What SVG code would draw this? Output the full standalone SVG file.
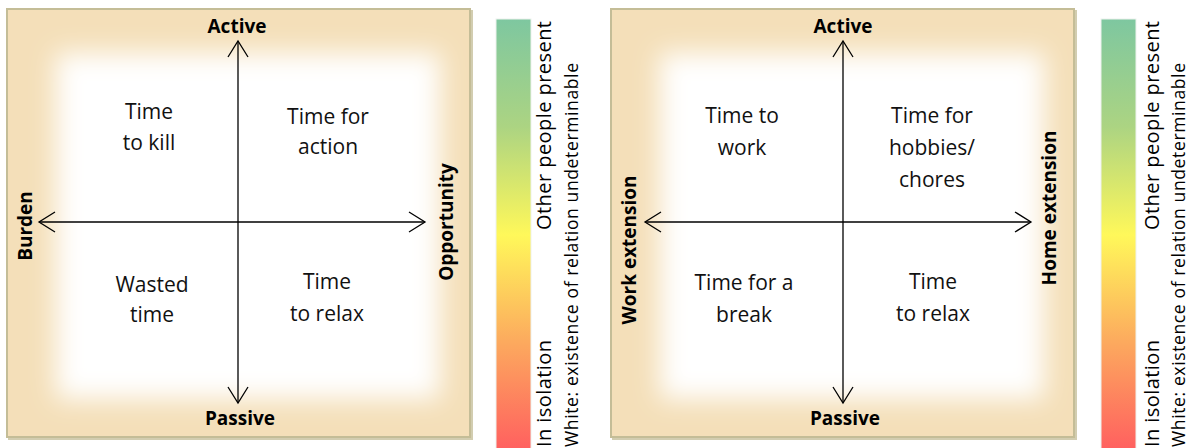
<svg xmlns="http://www.w3.org/2000/svg" width="1192" height="448" viewBox="0 0 1192 448">
<style>
.panel{fill:#f4dfb9;stroke:#c4bd97;stroke-width:2}
.shadow{fill:none;stroke:#d2cdb0;stroke-width:2}
.glow{fill:#ffffff;filter:url(#soft)}
.q{font-family:"Open Sans","Noto Sans",sans-serif;font-size:21px;fill:#111;text-anchor:middle}
.b{font-family:"Open Sans","Noto Sans",sans-serif;font-size:19px;font-weight:bold;fill:#000;text-anchor:middle}
.leg{font-family:"Open Sans","Noto Sans",sans-serif;font-size:20px;fill:#000}
.leg2{font-family:"Open Sans","Noto Sans",sans-serif;font-size:17.5px;fill:#000}
.ax{stroke:#000;stroke-width:1.3;fill:none;marker-start:url(#arr);marker-end:url(#arr)}
.bar{fill:url(#grad);stroke:#eef2ee;stroke-width:1}
</style>
<defs>
<filter id="soft" x="-25%" y="-25%" width="150%" height="150%"><feGaussianBlur stdDeviation="13"/></filter>
<linearGradient id="grad" x1="0" y1="0" x2="0" y2="1">
<stop offset="0" stop-color="#7ec7a0"/>
<stop offset="0.25" stop-color="#acd482"/>
<stop offset="0.5" stop-color="#fff85a"/>
<stop offset="0.75" stop-color="#fca95e"/>
<stop offset="1" stop-color="#ff5f5f"/>
</linearGradient>
<marker id="arr" viewBox="-18 -12 20 24" markerWidth="20" markerHeight="24" refX="0" refY="0" orient="auto-start-reverse" markerUnits="userSpaceOnUse">
<path d="M-16,-10 L0,0 L-16,10" fill="none" stroke="#000" stroke-width="1.3"/>
</marker>
</defs>

<g id="panel-left">
<rect class="shadow" x="9" y="11" width="463" height="428"/>
<rect class="panel" x="7" y="9" width="463" height="428"/>
<rect class="glow" x="56" y="53" width="384" height="346"/>
</g>
<g id="panel-right">
<rect class="shadow" x="613" y="11" width="463" height="428"/>
<rect class="panel" x="611" y="9" width="463" height="428"/>
<rect class="glow" x="660" y="53" width="384" height="346"/>
</g>

<g id="connectors">
<line class="ax" x1="39" y1="222" x2="425" y2="222"/>
<line class="ax" x1="238" y1="403" x2="238" y2="41"/>
<line class="ax" x1="645" y1="222" x2="1031" y2="222"/>
<line class="ax" x1="843" y1="403" x2="843" y2="41"/>
</g>

<g id="left-labels">
<text class="b" x="237" y="33">Active</text>
<text class="b" x="240" y="425">Passive</text>
<text class="b" transform="translate(32,226) rotate(-90)">Burden</text>
<text class="b" transform="translate(453,222) rotate(-90)">Opportunity</text>
</g>
<g id="q-time-to-kill"><text class="q" x="149" y="119">Time</text><text class="q" x="149" y="150">to kill</text></g>
<g id="q-time-for-action"><text class="q" x="328" y="124">Time for</text><text class="q" x="328" y="154">action</text></g>
<g id="q-wasted-time"><text class="q" x="152" y="292">Wasted</text><text class="q" x="152" y="322">time</text></g>
<g id="q-time-to-relax-l"><text class="q" x="327" y="289">Time</text><text class="q" x="327" y="321">to relax</text></g>

<g id="right-labels">
<text class="b" x="843" y="33">Active</text>
<text class="b" x="845" y="425">Passive</text>
<text class="b" transform="translate(636,250) rotate(-90)">Work extension</text>
<text class="b" transform="translate(1056,208) rotate(-90)">Home extension</text>
</g>
<g id="q-time-to-work"><text class="q" x="742" y="123">Time to</text><text class="q" x="742" y="155">work</text></g>
<g id="q-hobbies"><text class="q" x="932" y="123">Time for</text><text class="q" x="932" y="155">hobbies/</text><text class="q" x="932" y="187">chores</text></g>
<g id="q-break"><text class="q" x="744" y="290">Time for a</text><text class="q" x="744" y="322">break</text></g>
<g id="q-time-to-relax-r"><text class="q" x="933" y="289">Time</text><text class="q" x="933" y="321">to relax</text></g>

<g id="legend-left">
<rect class="bar" x="496" y="19" width="35" height="432"/>
<text class="leg" transform="translate(551,230) rotate(-90)" textLength="209">Other people present</text>
<text class="leg" transform="translate(551,447) rotate(-90)" textLength="107">In isolation</text>
<text class="leg2" transform="translate(578,447) rotate(-90)" textLength="384">White: existence of relation undeterminable</text>
</g>
<g id="legend-right">
<rect class="bar" x="1101" y="19" width="35" height="432"/>
<text class="leg" transform="translate(1159,230) rotate(-90)" textLength="209">Other people present</text>
<text class="leg" transform="translate(1159,447) rotate(-90)" textLength="107">In isolation</text>
<text class="leg2" transform="translate(1185,447) rotate(-90)" textLength="384">White: existence of relation undeterminable</text>
</g>
</svg>
